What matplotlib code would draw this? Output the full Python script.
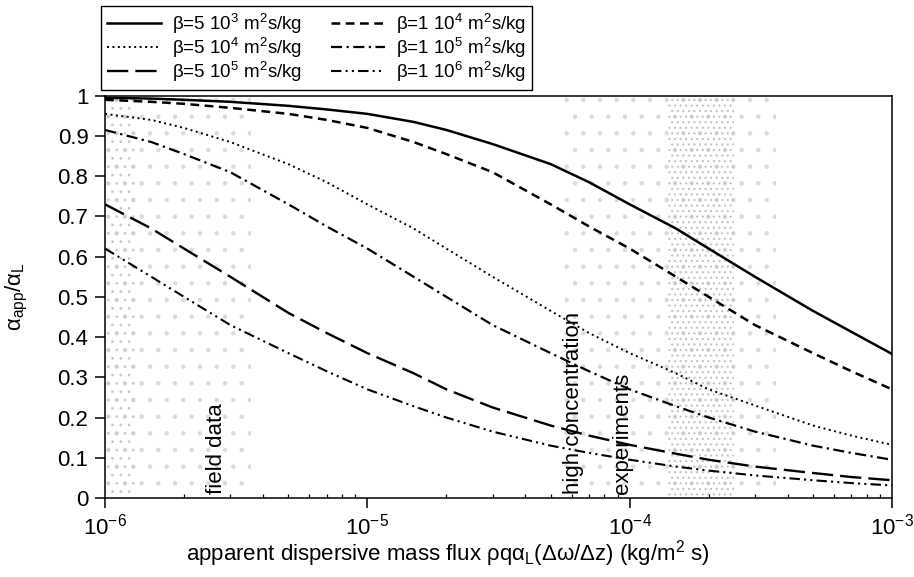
import matplotlib
matplotlib.use("Agg")
import matplotlib.pyplot as plt
from matplotlib.ticker import FixedLocator, FuncFormatter, LogLocator, NullFormatter

plt.rcParams['font.family'] = ['Liberation Sans', 'DejaVu Sans']
plt.rcParams['mathtext.fontset'] = 'custom'
plt.rcParams['mathtext.rm'] = 'Liberation Sans'
plt.rcParams['mathtext.it'] = 'Liberation Sans:italic'
plt.rcParams['mathtext.default'] = 'regular'
plt.rcParams['hatch.linewidth'] = 0.8

# apparent dispersive mass flux (kg/m2 s)
flux = [1e-6, 1.5e-6, 2e-6, 3e-6, 5e-6, 7e-6,
        1e-5, 1.5e-5, 2e-5, 3e-5, 5e-5, 7e-5,
        1e-4, 1.5e-4, 2e-4, 3e-4, 5e-4, 7e-4, 1e-3]

# alpha_app / alpha_L for each beta
b5e3 = [0.995, 0.993, 0.99, 0.985, 0.975, 0.966, 0.955, 0.935, 0.915, 0.88, 0.83, 0.785,
        0.73, 0.67, 0.62, 0.55, 0.465, 0.413, 0.358]
b1e4 = [0.99, 0.985, 0.98, 0.97, 0.955, 0.94, 0.92, 0.885, 0.855, 0.81, 0.73, 0.675,
        0.62, 0.55, 0.50, 0.43, 0.36, 0.315, 0.27]
b5e4 = [0.955, 0.94, 0.92, 0.885, 0.83, 0.785, 0.73, 0.67, 0.62, 0.55, 0.465, 0.41,
        0.36, 0.31, 0.27, 0.23, 0.18, 0.155, 0.132]
b1e5 = [0.915, 0.885, 0.855, 0.81, 0.73, 0.675, 0.62, 0.55, 0.50, 0.43, 0.36, 0.315,
        0.27, 0.228, 0.20, 0.165, 0.13, 0.112, 0.095]
b5e5 = [0.73, 0.67, 0.62, 0.55, 0.46, 0.41, 0.36, 0.31, 0.27, 0.225, 0.18, 0.155,
        0.132, 0.11, 0.095, 0.078, 0.062, 0.052, 0.044]
b1e6 = [0.62, 0.55, 0.50, 0.43, 0.36, 0.315, 0.27, 0.228, 0.20, 0.165, 0.13, 0.112,
        0.095, 0.078, 0.068, 0.056, 0.044, 0.037, 0.031]

labels = ['β=5 10$^3$ m$^2$s/kg', 'β=5 10$^4$ m$^2$s/kg', 'β=5 10$^5$ m$^2$s/kg',
          'β=1 10$^4$ m$^2$s/kg', 'β=1 10$^5$ m$^2$s/kg', 'β=1 10$^6$ m$^2$s/kg']

fig = plt.figure(figsize=(9.14, 5.77), dpi=100)
ax = fig.add_axes([0.115, 0.137, 0.861, 0.697])

# stippled zones: field data and high concentration experiments
ax.axvspan(1.0e-6, 3.6e-6, facecolor='none', edgecolor='0.86', hatch='.', lw=0)
ax.axvspan(1.0e-6, 1.3e-6, facecolor='none', edgecolor='0.8', hatch='..', lw=0)
ax.axvspan(5.5e-5, 3.6e-4, facecolor='none', edgecolor='0.86', hatch='.', lw=0)
ax.axvspan(1.4e-4, 2.5e-4, facecolor='none', edgecolor='0.76', hatch='...', lw=0)

l1, = ax.plot(flux, b5e3, color='k', lw=1.8, ls='-')
l4, = ax.plot(flux, b1e4, color='k', lw=1.8, ls=(0, (3.5, 2.2)))
l2, = ax.plot(flux, b5e4, color='k', lw=1.4, ls=(0, (1, 1.8)))
l5, = ax.plot(flux, b1e5, color='k', lw=1.6, ls=(0, (5, 2, 1, 2)))
l3, = ax.plot(flux, b5e5, color='k', lw=1.7, ls=(0, (9, 3)))
l6, = ax.plot(flux, b1e6, color='k', lw=1.5, ls=(0, (5, 2, 1, 2, 1, 2)))

ax.text(2.65e-6, 0.01, 'field data', rotation=90, ha='center', va='bottom', fontsize=16)
ax.text(6.1e-5, 0.01, 'high concentration', rotation=90, ha='center', va='bottom', fontsize=16)
ax.text(9.4e-5, 0.01, 'experiments', rotation=90, ha='center', va='bottom', fontsize=16)

ax.set_xscale('log')
ax.set_xlim(1e-6, 1e-3)
ax.set_ylim(0, 1)
ax.yaxis.set_major_locator(FixedLocator([i / 10 for i in range(11)]))
ax.yaxis.set_major_formatter(FuncFormatter(lambda v, p: '%g' % round(v, 1)))
ax.xaxis.set_major_locator(LogLocator(base=10, numticks=10))
ax.xaxis.set_minor_locator(LogLocator(base=10, subs=range(2, 10), numticks=10))
ax.xaxis.set_minor_formatter(NullFormatter())

ax.tick_params(axis='both', which='major', labelsize=16, direction='out', length=7, width=1.1)
ax.tick_params(axis='x', which='minor', direction='in', length=3, width=0.9)
ax.tick_params(axis='x', which='major', pad=4)
ax.tick_params(axis='y', which='major', pad=5)
for s in ax.spines.values():
    s.set_linewidth(1.1)

ax.set_xlabel('apparent dispersive mass flux ρqα$_\\mathrm{L}$(Δω/Δz) (kg/m$^2$ s)',
              fontsize=16)
ax.xaxis.set_label_coords(0.435, -0.10)
ax.set_ylabel('α$_\\mathrm{app}$/α$_\\mathrm{L}$', fontsize=16)
ax.yaxis.set_label_coords(-0.095, 0.5)

leg = fig.legend([l1, l2, l3, l4, l5, l6], labels, ncol=2, loc='upper left',
                 bbox_to_anchor=(101 / 914, 1 - 6 / 577), fontsize=13.5,
                 frameon=True, fancybox=False, edgecolor='k', framealpha=1,
                 handlelength=2.9, handletextpad=0.6, columnspacing=1.5,
                 labelspacing=0.0, borderpad=0.3, borderaxespad=0)
leg.get_frame().set_linewidth(1.0)

fig.savefig('out.png', dpi=100)
